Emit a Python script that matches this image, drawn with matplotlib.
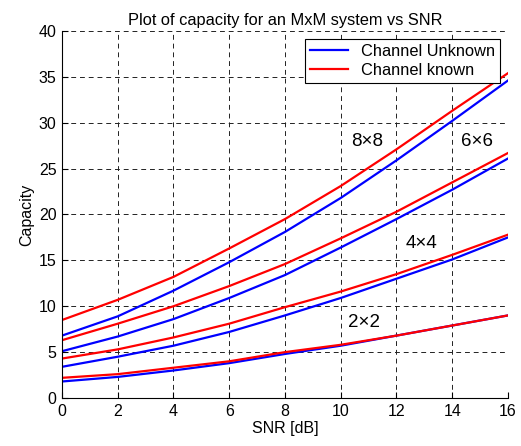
import matplotlib

matplotlib.use("Agg")
import matplotlib.pyplot as plt

plt.rcParams["font.family"] = ["Liberation Sans", "DejaVu Sans"]

snr_db = [0, 2, 4, 6, 8, 10, 12, 14, 16]

# channel unknown (blue) / channel known (red), per antenna config
unknown_8x8 = [6.8, 8.9, 11.7, 14.8, 18.1, 21.8, 25.9, 30.2, 34.6]
known_8x8 = [8.5, 10.7, 13.2, 16.3, 19.5, 23.1, 27.1, 31.3, 35.4]
unknown_6x6 = [5.1, 6.7, 8.6, 10.9, 13.4, 16.4, 19.5, 22.7, 26.1]
known_6x6 = [6.3, 8.1, 10.0, 12.2, 14.6, 17.4, 20.3, 23.5, 26.7]
unknown_4x4 = [3.4, 4.5, 5.7, 7.2, 9.0, 10.9, 13.0, 15.1, 17.5]
known_4x4 = [4.3, 5.3, 6.6, 8.1, 9.9, 11.6, 13.5, 15.6, 17.8]
unknown_2x2 = [1.8, 2.3, 3.0, 3.8, 4.8, 5.7, 6.8, 7.9, 9.0]
known_2x2 = [2.2, 2.6, 3.3, 4.0, 5.0, 5.8, 6.8, 7.9, 9.0]

labels = ["8\u00d78", "6\u00d76", "4\u00d74", "2\u00d72"]
label_x = [10.95, 14.9, 12.9, 10.85]
label_y = [28.0, 28.0, 16.8, 8.25]

fig = plt.figure(figsize=(5.21, 4.46), dpi=100)
ax = fig.add_axes([0.119, 0.1076, 0.856, 0.823])

pairs = [
    (unknown_8x8, known_8x8),
    (unknown_6x6, known_6x6),
    (unknown_4x4, known_4x4),
    (unknown_2x2, known_2x2),
]
for i, (unk, kn) in enumerate(pairs):
    ax.plot(snr_db, unk, color="#0000ff", lw=1.6,
            label="Channel Unknown" if i == 0 else None)
    ax.plot(snr_db, kn, color="#ff0000", lw=1.6,
            label="Channel known" if i == 0 else None)

for txt, x, y in zip(labels, label_x, label_y):
    ax.text(x, y, txt, ha="center", va="center", fontsize=13.5)

ax.set_xlim(0, 16)
ax.set_ylim(0, 40)
ax.set_xticks(range(0, 17, 2))
ax.set_yticks(range(0, 41, 5))
ax.grid(True, color="#222222", linestyle=(0, (5, 4)), lw=0.7)
ax.spines["top"].set_visible(False)
ax.spines["right"].set_visible(False)
ax.tick_params(direction="in", length=4, labelsize=11.5, pad=4)

ax.set_xlabel("SNR [dB]", fontsize=11.5, labelpad=2)
ax.set_ylabel("Capacity", fontsize=11.5, labelpad=3)
ax.set_title("Plot of capacity for an MxM system vs SNR", fontsize=11.8, pad=4)

leg = ax.legend(loc="upper right", fontsize=11.8, fancybox=False,
                framealpha=1, edgecolor="black", borderaxespad=0.5,
                handlelength=2.3, borderpad=0.3, labelspacing=0.25)
leg.get_frame().set_linewidth(0.8)

fig.savefig("out.png", dpi=100)
